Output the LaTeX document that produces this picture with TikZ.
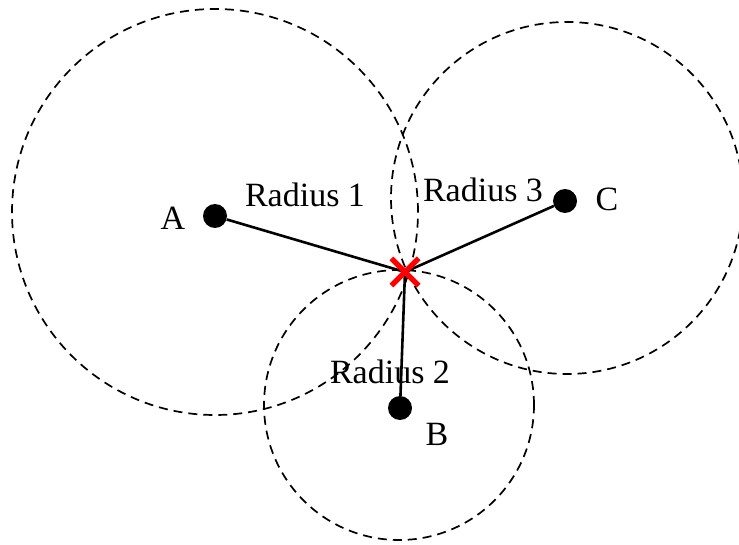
\documentclass[tikz,border=0pt]{standalone}
\usepackage{fontspec}
\setmainfont{Liberation Serif}
\usetikzlibrary{shapes.misc,positioning}

\begin{document}
\begin{tikzpicture}[
    x=1pt,y=-1pt,
    dot/.style={circle,fill=black,inner sep=0pt,minimum size=24pt},
    xmark/.style={cross out,draw=red,line width=5pt,inner sep=0pt,minimum size=22pt},
    ring/.style={line width=1.7pt,dash pattern=on 9pt off 6pt},
    edge/.style={line width=2.6pt},
    lbl/.style={font=\fontsize{34}{38}\selectfont,inner sep=1pt}
]
\useasboundingbox (0,0) rectangle (739,545);
\node[dot] (A) at (215,216) {};
\node[dot] (B) at (400,408) {};
\node[dot] (C) at (565,201) {};
\node[xmark] (X) at (405,272) {};
\draw[ring] (215,212) circle[radius=203pt];
\draw[ring] (399,405) circle[radius=135pt];
\draw[ring] (567,198) circle[radius=176pt];
\draw[edge] (A) -- (X.center);
\draw[edge] (B) -- (X.center);
\draw[edge] (C) -- (X.center);
\node[xmark] at (X) {};
\node[lbl] (la) at (173,218) {A};
\node[lbl] (lc) at (607,199) {C};
\node[lbl] (lb) at (437,434) {B};
\node[lbl] (r1) at (305,195) {Radius 1};
\node[lbl] (r3) at (483,190) {Radius 3};
\node[lbl] (r2) at (390,372) {Radius 2};
\end{tikzpicture}
\end{document}
